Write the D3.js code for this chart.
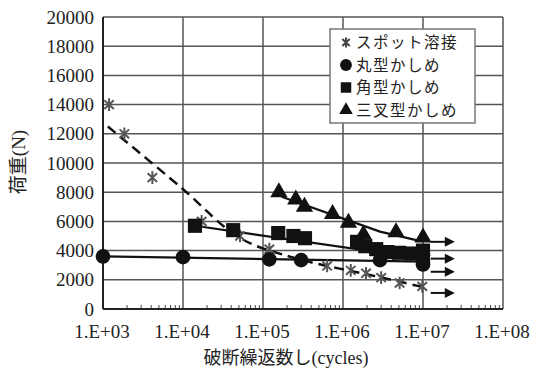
<!DOCTYPE html>
<html>
<head>
<meta charset="utf-8">
<script src="https://cdn.jsdelivr.net/npm/d3@7"></script>
<style>
  body { margin: 0; background: #fff; }
  text { font-family: "Liberation Serif", "DejaVu Serif", serif; }
  .jp { font-family: "Noto Sans CJK JP", sans-serif; }
</style>
</head>
<body>
<div id="chart"></div>
<script>
var width = 536,
    height = 374;
var margin = {top: 17, right: 33, bottom: 65, left: 103};

// --- data (cycles, load N) ---
var spotN    = [1190, 1850, 4140, 17100, 51600, 120000, 634000, 1250000, 1940000, 3000000, 5100000, 9800000];
var spotLoad = [14000, 12000, 9000, 6000, 5000, 4100, 2950, 2650, 2450, 2150, 1780, 1550];

var roundN    = [1000, 10000, 120000, 300000, 2900000, 10000000, 10000000, 10000000];
var roundLoad = [3600, 3550, 3400, 3350, 3350, 3700, 3350, 3050];

var squareN    = [14100, 42400, 155000, 240000, 335000, 1500000, 1900000, 2600000, 3600000, 5000000, 7000000, 10000000];
var squareLoad = [5700, 5400, 5200, 5000, 4850, 4600, 4300, 4100, 3900, 3850, 3800, 4000];

var triN    = [158000, 257000, 330000, 740000, 1170000, 1800000, 4600000, 10000000];
var triLoad = [8000, 7500, 7000, 6500, 5900, 5100, 5250, 4900];

// fitted curves
var spotFitN    = [1150, 9200, 51600, 218000, 630000, 1900000, 10000000];
var spotFitLoad = [12500, 8380, 4860, 3580, 2950, 2400, 1500];
var roundFitN    = [1000, 10000000];
var roundFitLoad = [3600, 3250];
var squareFitN    = [14100, 10000000];
var squareFitLoad = [5700, 3450];
var triFitN    = [171000, 2900000, 8500000];
var triFitLoad = [7690, 5300, 4700];

// run-out arrows
var arrowLoad = [4600, 3450, 2550, 1100];
var arrowFrom = 12500000, arrowTo = 25000000;

var xTickValues = [1e3, 1e4, 1e5, 1e6, 1e7, 1e8];
var xTickLabels = ["1.E+03", "1.E+04", "1.E+05", "1.E+06", "1.E+07", "1.E+08"];
var yTickValues = [0, 2000, 4000, 6000, 8000, 10000, 12000, 14000, 16000, 18000, 20000];

var legendLabels = ["スポット溶接", "丸型かしめ", "角型かしめ", "三叉型かしめ"];

var svg = d3.select("#chart").append("svg")
    .attr("width", width)
    .attr("height", height);

var x = d3.scaleLog()
    .domain([1e3, 1e8])
    .range([margin.left, width - margin.right]);
var y = d3.scaleLinear()
    .domain([0, 20000])
    .range([height - margin.bottom, margin.top]);

var zip = function(a, b) { return a.map(function(v, i) { return [v, b[i]]; }); };

// asterisk: vertical bar + X
var starSym = {
  draw: function(ctx, size) {
    var r = Math.sqrt(size) / 2;
    ctx.moveTo(0, -r); ctx.lineTo(0, r);
    ctx.moveTo(-r * 0.75, -r * 0.7); ctx.lineTo(r * 0.75, r * 0.7);
    ctx.moveTo(-r * 0.75, r * 0.7); ctx.lineTo(r * 0.75, -r * 0.7);
  }
};

// grid
var grid = svg.append("g").attr("stroke", "#555").attr("stroke-width", 1.5);
grid.selectAll(".gy").data(yTickValues).enter().append("line")
    .attr("x1", x(1e3)).attr("x2", x(1e8))
    .attr("y1", function(d) { return y(d); }).attr("y2", function(d) { return y(d); });
grid.selectAll(".gx").data(xTickValues).enter().append("line")
    .attr("x1", function(d) { return x(d); }).attr("x2", function(d) { return x(d); })
    .attr("y1", y(0)).attr("y2", y(20000));

// minor ticks on bottom
var minor = [];
[1e3, 1e4, 1e5, 1e6, 1e7].forEach(function(dec) {
  for (var k = 2; k <= 9; k++) minor.push(dec * k);
});
svg.append("g").selectAll("line").data(minor).enter().append("line")
    .attr("x1", function(d) { return x(d); }).attr("x2", function(d) { return x(d); })
    .attr("y1", y(0)).attr("y2", y(0) - 4)
    .attr("stroke", "#444").attr("stroke-width", 1);

// axes lines
svg.append("line").attr("x1", x(1e3)).attr("x2", x(1e3)).attr("y1", y(0)).attr("y2", y(20000))
    .attr("stroke", "#222").attr("stroke-width", 2);
svg.append("line").attr("x1", x(1e3)).attr("x2", x(1e8)).attr("y1", y(0)).attr("y2", y(0))
    .attr("stroke", "#222").attr("stroke-width", 2);

// tick labels
svg.append("g").selectAll("text").data(yTickValues).enter().append("text")
    .attr("x", 94).attr("y", function(d) { return y(d); })
    .attr("dy", "0.35em").attr("text-anchor", "end")
    .style("font-size", "19px").attr("fill", "#222")
    .text(function(d) { return d; });
svg.append("g").selectAll("text").data(xTickValues).enter().append("text")
    .attr("x", function(d) { return x(d) - 1; }).attr("y", 338)
    .attr("text-anchor", "middle")
    .style("font-size", "19px").attr("fill", "#222")
    .text(function(d, i) { return xTickLabels[i]; });

// axis titles
svg.append("text").attr("x", 286).attr("y", 364).attr("text-anchor", "middle")
    .style("font-size", "18px").attr("fill", "#222")
    .html('<tspan class="jp">破断繰返数し</tspan><tspan>(cycles)</tspan>');
svg.append("text").attr("transform", "translate(25,162) rotate(-90)").attr("text-anchor", "middle")
    .style("font-size", "19px").attr("fill", "#222")
    .html('<tspan class="jp">荷重</tspan><tspan>(N)</tspan>');

// lines
var line = d3.line().x(function(d) { return x(d[0]); }).y(function(d) { return y(d[1]); });
svg.append("path").datum(zip(spotFitN, spotFitLoad))
    .attr("d", line.curve(d3.curveCatmullRom))
    .attr("fill", "none").attr("stroke", "#111").attr("stroke-width", 2.5)
    .attr("stroke-dasharray", "10,6");
line.curve(d3.curveLinear);
[[roundFitN, roundFitLoad], [squareFitN, squareFitLoad], [triFitN, triFitLoad]].forEach(function(s) {
  svg.append("path").datum(zip(s[0], s[1]))
      .attr("d", line).attr("fill", "none").attr("stroke", "#111").attr("stroke-width", 2.2);
});

// arrows
var arr = svg.append("g");
arrowLoad.forEach(function(v) {
  arr.append("line").attr("x1", x(arrowFrom)).attr("x2", x(arrowTo) - 8)
      .attr("y1", y(v)).attr("y2", y(v)).attr("stroke", "#111").attr("stroke-width", 2);
  arr.append("path")
      .attr("d", "M" + (x(arrowTo) - 10) + "," + (y(v) - 5) + "L" + x(arrowTo) + "," + y(v) + "L" + (x(arrowTo) - 10) + "," + (y(v) + 5) + "Z")
      .attr("fill", "#111");
});

// markers
var sym = function(type, size) { return d3.symbol().type(type).size(size); };
svg.append("g").selectAll("path").data(zip(spotN, spotLoad)).enter().append("path")
    .attr("transform", function(d) { return "translate(" + x(d[0]) + "," + y(d[1]) + ")"; })
    .attr("d", sym(starSym, 160)).attr("fill", "none").attr("stroke", "#555").attr("stroke-width", 2);
svg.append("g").selectAll("path").data(zip(roundN, roundLoad)).enter().append("path")
    .attr("transform", function(d) { return "translate(" + x(d[0]) + "," + y(d[1]) + ")"; })
    .attr("d", sym(d3.symbolCircle, 170)).attr("fill", "#111");
svg.append("g").selectAll("path").data(zip(squareN, squareLoad)).enter().append("path")
    .attr("transform", function(d) { return "translate(" + x(d[0]) + "," + y(d[1]) + ")"; })
    .attr("d", sym(d3.symbolSquare, 200)).attr("fill", "#111");
svg.append("g").selectAll("path").data(zip(triN, triLoad)).enter().append("path")
    .attr("transform", function(d) { return "translate(" + x(d[0]) + "," + y(d[1]) + ")"; })
    .attr("d", sym(d3.symbolTriangle, 130)).attr("fill", "#111");

// legend
var lg = svg.append("g");
lg.append("rect").attr("x", 330).attr("y", 29).attr("width", 145).attr("height", 94)
    .attr("fill", "#fff").attr("stroke", "#777").attr("stroke-width", 1.5);
var legendSym = [
  {t: starSym, s: 100, fill: "none", stroke: "#444"},
  {t: d3.symbolCircle, s: 110, fill: "#111", stroke: "none"},
  {t: d3.symbolSquare, s: 110, fill: "#111", stroke: "none"},
  {t: d3.symbolTriangle, s: 80, fill: "#111", stroke: "none"}
];
legendLabels.forEach(function(lab, i) {
  var cy = 42.5 + i * 22.5;
  lg.append("path").attr("transform", "translate(346," + cy + ")")
      .attr("d", sym(legendSym[i].t, legendSym[i].s))
      .attr("fill", legendSym[i].fill).attr("stroke", legendSym[i].stroke).attr("stroke-width", 2);
  lg.append("text").attr("class", "jp").attr("x", 356).attr("y", cy).attr("dy", "0.36em")
      .style("font-size", "15.5px").style("letter-spacing", "1.5px")
      .attr("fill", "#222").text(lab);
});
</script>
</body>
</html>
